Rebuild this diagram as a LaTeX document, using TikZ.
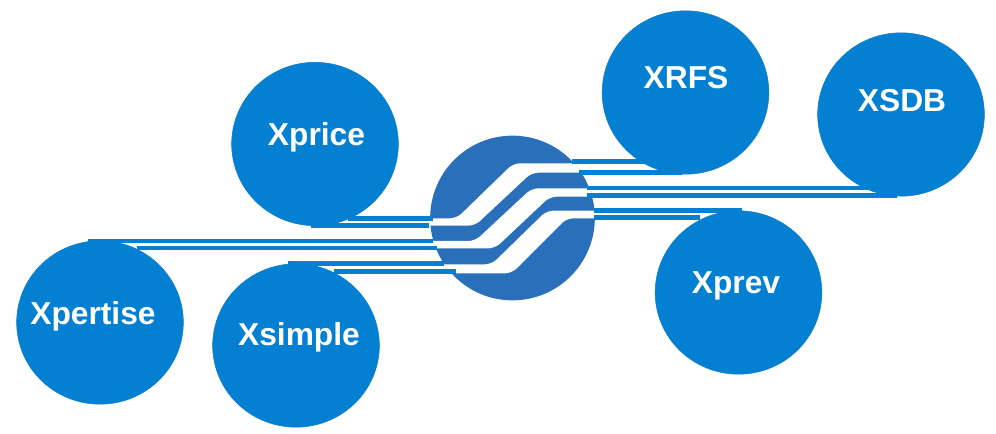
\documentclass[tikz,border=0pt]{standalone}
\usepackage{fontspec}
\usetikzlibrary{shapes.geometric}
\setmainfont{Liberation Sans}
\definecolor{nodeblue}{HTML}{0480D3}
\definecolor{logoblue}{HTML}{2A6FB9}
\tikzset{
  product/.style={ellipse,fill=nodeblue,draw=nodeblue!75!logoblue,line width=.4pt,minimum width=125pt,minimum height=122.5pt,inner sep=0pt},
  prodlabel/.style={text=white,font=\fontsize{23.8}{25}\selectfont\bfseries,inner sep=0pt,anchor=base},
  wire/.style={draw=nodeblue,line width=3.4pt},
  band/.style={fill=white,rounded corners=5pt}
}
\begin{document}
\begin{tikzpicture}[x=.75pt,y=-.75pt]
\useasboundingbox (0,0) rectangle (996,434);
\fill[white] (0,0) rectangle (996,434);
% logo
\node[circle,fill=logoblue,minimum size=123.5pt,inner sep=0pt] (logo) at (512.5,218) {};
\begin{scope}
\clip (512.5,218) circle (82.5);
\begin{scope}[shift={(425,130)},x=.25pt,y=-.25pt]
\path[band] (0,265) -- (95,265) -- (265,100) -- (560,100) -- (560,128) -- (320,128) -- (150,287) -- (0,287) -- cycle;
\path[band] (0,333) -- (150,333) -- (320,175) -- (560,175) -- (560,200) -- (375,200) -- (210,355) -- (0,355) -- cycle;
\path[band] (0,403) -- (200,403) -- (365,242) -- (560,242) -- (560,265) -- (425,265) -- (260,430) -- (0,430) -- cycle;
\end{scope}
\end{scope}
% product circles
\node[product] (xprice) at (315,144) {};
\node[product] (xrfs) at (685.5,92.5) {};
\node[product] (xsdb) at (901,114.5) {};
\node[product] (xprev) at (738.5,292.5) {};
\node[product] (xpertise) at (100,322.5) {};
\node[product] (xsimple) at (296,345.5) {};
% line ends
\foreach \n/\xa/\xb/\yy in {a/348/433/218.3,b/311/429/225.7,c/88/433/241,d/137/437/248,e/288/444/263.3,f/334/456/271.3,
  g/572/650/161.7,h/579/682/172.3,i/587/870/188,j/587/897/195.3,k/594/742/210.3,l/594/700/217.7}{
  \coordinate (\n1) at (\xa,\yy);
  \coordinate (\n2) at (\xb,\yy);
  \draw[wire] (\n1) -- (\n2);
}
% labels
\node[prodlabel] (tprice) at (316.5,146) {Xprice};
\node[prodlabel] (trfs) at (686,89) {XRFS};
\node[prodlabel] (tsdb) at (902,112) {XSDB};
\node[prodlabel] (tprev) at (736,294) {Xprev};
\node[prodlabel] (tpertise) at (93,325) {Xpertise};
\node[prodlabel] (tsimple) at (299,346) {Xsimple};
\end{tikzpicture}
\end{document}
